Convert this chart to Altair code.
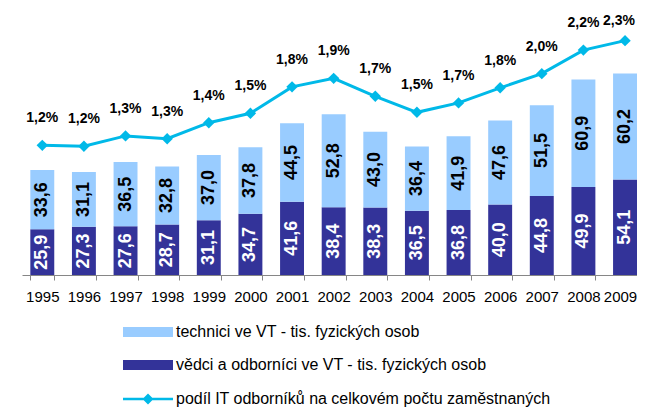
import altair as alt
import pandas as pd

years = [str(y) for y in range(1995, 2010)]
vedci = [25.9, 27.3, 27.6, 28.7, 31.1, 34.7, 41.6, 38.4, 38.3, 36.5, 36.8, 40.0, 44.8, 49.9, 54.1]
technici = [33.6, 31.1, 36.5, 32.8, 37.0, 37.8, 44.5, 52.8, 43.0, 36.4, 41.9, 47.6, 51.5, 60.9, 60.2]
podil = [1.19, 1.18, 1.29, 1.26, 1.43, 1.53, 1.81, 1.90, 1.71, 1.54, 1.64, 1.80, 1.95, 2.20, 2.30]
podil_labels = ["1,2%", "1,2%", "1,3%", "1,3%", "1,4%", "1,5%", "1,8%", "1,9%",
                "1,7%", "1,5%", "1,7%", "1,8%", "2,0%", "2,2%", "2,3%"]

S_TECH = "technici ve VT - tis. fyzických osob"
S_VED = "vědci a odborníci ve VT - tis. fyzických osob"
S_POD = "podíl IT odborníků na celkovém počtu zaměstnaných"

C_TECH = "#99CCFF"
C_VED = "#333399"
C_POD = "#00B9E8"
FONT = "Liberation Sans"
LAST = years[-1]


def cz(v):
    return f"{v:.1f}".replace(".", ",")


rows = []
for y, v, t in zip(years, vedci, technici):
    rows.append({"year": y, "series": S_VED, "lo": 0.0, "hi": v, "mid": v / 2, "label": cz(v)})
    rows.append({"year": y, "series": S_TECH, "lo": v, "hi": v + t, "mid": v + t / 2, "label": cz(t)})
bars_df = pd.DataFrame(rows)

line_df = pd.DataFrame({"year": years, "podil": podil, "label": podil_labels,
                        "series": [S_POD] * len(years)})

PATH_RECT = "M-1,-0.2H1V0.2H-1Z"
PATH_LINE = "M-1,-0.05H1V0.05H-1Z M-0.22,0L0,-0.22L0.22,0L0,0.22Z"

common_legend = dict(direction="vertical", title=None, orient="none",
                     symbolSize=2500, labelFontSize=16, labelFont=FONT,
                     labelColor="black", labelOffset=3, rowPadding=-16.3, labelLimit=600,
                     symbolStrokeWidth=0)

xenc = alt.X("year:N",
             scale=alt.Scale(paddingInner=0.425, paddingOuter=0.1, align=1),
             axis=alt.Axis(title=None, labelAngle=0, labelFontSize=15, labelFont=FONT,
                           labelColor="black", tickBand="extent", tickSize=5,
                           domainColor="#868686", tickColor="#868686", labelPadding=9,
                           labelOffset={"condition": {"test": f"datum.value === '{LAST}'",
                                                      "value": -5},
                                        "value": 0},
                           grid=False))

ybar = alt.Scale(domain=[0, 144.6], nice=False, zero=False)
yline = alt.Scale(domain=[-0.185, 2.519], nice=False, zero=False)

bars = alt.Chart(bars_df).mark_bar().encode(
    x=xenc,
    y=alt.Y("lo:Q", scale=ybar, axis=None),
    y2="hi:Q",
    color=alt.Color("series:N",
                    scale=alt.Scale(domain=[S_TECH, S_VED], range=[C_TECH, C_VED]),
                    legend=alt.Legend(legendX=101, legendY=287, symbolType=PATH_RECT,
                                      **common_legend)),
)

txt_ved = alt.Chart(bars_df).transform_filter(alt.datum.series == S_VED).mark_text(
    angle=270, color="white", fontSize=18, fontWeight="bold", font=FONT,
    align="center", baseline="middle"
).encode(x=alt.X("year:N"), y=alt.Y("mid:Q", scale=ybar, axis=None), text="label:N")

txt_tech = alt.Chart(bars_df).transform_filter(alt.datum.series == S_TECH).mark_text(
    angle=270, color="black", fontSize=18, fontWeight="bold", font=FONT,
    align="center", baseline="middle"
).encode(x=alt.X("year:N"), y=alt.Y("mid:Q", scale=ybar, axis=None), text="label:N")

line = alt.Chart(line_df).mark_line(strokeWidth=3, color=C_POD).encode(
    x=alt.X("year:N"),
    y=alt.Y("podil:Q", scale=yline, axis=None),
)

points = alt.Chart(line_df).mark_point(shape="diamond", size=130, filled=True, opacity=1).encode(
    x=alt.X("year:N"),
    y=alt.Y("podil:Q", scale=yline, axis=None),
    color=alt.Color("series:N", scale=alt.Scale(domain=[S_POD], range=[C_POD]),
                    legend=alt.Legend(legendX=101, legendY=354, symbolType=PATH_LINE,
                                      symbolFillColor=C_POD, **common_legend)),
)

pct = alt.Chart(line_df).transform_filter(alt.datum.year != LAST).mark_text(
    dy=-27, color="black", fontSize=14, fontWeight="bold", font=FONT, align="center",
    baseline="middle"
).encode(x=alt.X("year:N"), y=alt.Y("podil:Q", scale=yline, axis=None), text="label:N")

pct_last = alt.Chart(line_df).transform_filter(alt.datum.year == LAST).mark_text(
    dy=-20, dx=-6, color="black", fontSize=14, fontWeight="bold", font=FONT, align="center",
    baseline="middle"
).encode(x=alt.X("year:N"), y=alt.Y("podil:Q", scale=yline, axis=None), text="label:N")

chart = alt.layer(bars, txt_ved, txt_tech, line, points, pct, pct_last).resolve_scale(
    y="independent", color="independent"
).properties(
    width=615, height=255,
    autosize=alt.AutoSizeParams(type="none"),
    padding={"left": 14, "top": 12, "right": 0, "bottom": 133},
).configure_view(stroke=None)

chart.save("out.html", embed_options={"renderer": "svg", "actions": False})
